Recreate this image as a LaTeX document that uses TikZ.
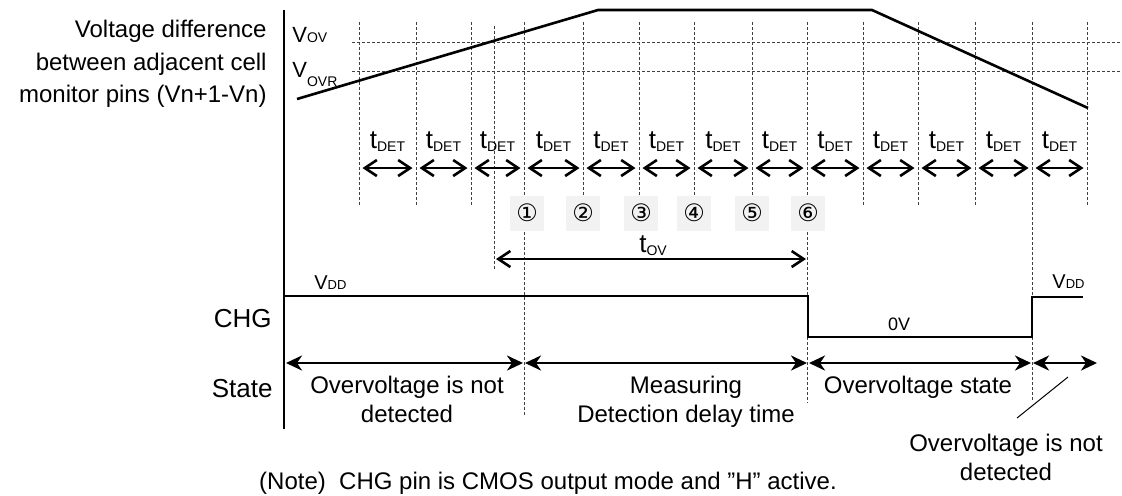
\documentclass[tikz,border=0pt]{standalone}
\usepackage{fontspec}
\setmainfont{Liberation Sans}
\newfontfamily\circfont{DejaVu Sans}
\usetikzlibrary{arrows.meta}

% small helpers for the labels
\newcommand{\tsub}[1]{{\fontsize{13}{13}\selectfont t}\raisebox{-1.5pt}{\fontsize{7}{7}\selectfont #1}}
\newcommand{\vdd}{{\fontsize{10}{10}\selectfont V}{\fontsize{6.5}{6.5}\selectfont DD}}

\tikzset{
  guide/.style={black!75, line width=0.5pt, dash pattern=on 1.5pt off 1pt},
  wave/.style={line width=1.3pt},
  sig/.style={line width=0.9pt},
  tarrow/.style={line width=1.3pt, {Straight Barb[length=6pt,width=8pt]}-{Straight Barb[length=6pt,width=8pt]}},
  starrow/.style={line width=1.4pt, {Stealth[length=8pt,width=7.5pt,inset=2.5pt]}-{Stealth[length=8pt,width=7.5pt,inset=2.5pt]}},
  numbox/.style={fill=black!5, minimum width=17pt, minimum height=17.5pt, inner sep=0pt, font=\circfont\fontsize{12}{12}\selectfont},
  lbl/.style={font=\fontsize{12}{14}\selectfont, inner sep=0pt},
  biglbl/.style={font=\fontsize{13}{15}\selectfont, inner sep=0pt}
}

\begin{document}
\begin{tikzpicture}[x=0.5pt,y=-0.5pt]
    \fill[white] (0,0) rectangle (1122,495);
    \useasboundingbox (0,0) rectangle (1122,495);

    % Axis and left labels
    \draw[line width=1pt] (284,10) -- (284,429);
    \node[lbl, anchor=base east] (vlab1) at (267,37) {Voltage difference};
    \node[lbl, anchor=base east] (vlab2) at (267,70) {between adjacent cell};
    \node[lbl, anchor=base east] (vlab3) at (267,102) {monitor pins (Vn+1-Vn)};
    \node[biglbl, anchor=base east] (chg) at (272,327) {CHG};
    \node[biglbl, anchor=base east] (state) at (273,397) {State};

    % Detection levels
    \draw[guide] (352,42) -- (1122,42);
    \draw[guide] (352,71) -- (1122,71);
    \node[inner sep=0pt, anchor=base west] (vov) at (292,42) {{\fontsize{11}{11}\selectfont V}{\fontsize{7}{7}\selectfont OV}};
    \node[inner sep=0pt, anchor=base west] (vovr) at (292,77) {{\fontsize{11}{11}\selectfont V}\raisebox{-4.5pt}{\fontsize{7}{7}\selectfont OVR}};

    % Sampling instants
    \foreach \gx/\gy in {359/205, 416/205, 471/205, 524/415, 583/195, 639/195, 694/195,
                         752/195, 807/403, 863/205, 918/205, 975/205, 1032/402, 1087/205}
        \draw[guide] (\gx,22) -- (\gx,\gy);
    \draw[guide] (494,26) -- (494,270);

    % Cell voltage
    \draw[wave] (297,99) -- (598,10) -- (872,10) -- (1088,108);

    % Detection intervals
    \foreach \a/\b in {359/416, 416/471, 471/524, 524/583, 583/639, 639/694, 694/752,
                       752/807, 807/863, 863/918, 918/975, 975/1032, 1032/1087} {
        \draw[tarrow] (\a+3.5,168) -- (\b-3.5,168);
        \node[inner sep=0pt, anchor=base] (tdet\a) at ({(\a+\b)/2},148) {\tsub{DET}};
    }

    % Counter
    \foreach \n/\bx/\c in {1/527/①, 2/583/②, 3/641/③, 4/694/④, 5/752/⑤, 6/808/⑥}
        \node[numbox] (box\n) at (\bx,213) {\c};

    % Overvoltage delay
    \coordinate (ovstart) at (496,259);
    \coordinate (ovend) at (806,259);
    \draw[tarrow] (ovstart) -- (ovend);
    \node[inner sep=0pt, anchor=base] (tov) at (653,252) {\tsub{OV}};

    % CHG output
    \draw[sig] (284,296) -- (808,296) -- (808,337) -- (1032,337) -- (1032,297) -- (1083,297);
    \node[inner sep=0pt, anchor=base west] (vddl) at (314,289) {\vdd};
    \node[inner sep=0pt, anchor=base west] (vddr) at (1052,288) {\vdd};
    \node[inner sep=0pt, font=\fontsize{9}{9}\selectfont] (zerov) at (899,324) {0V};

    % State
    \coordinate (s0) at (286,363);
    \coordinate (s1a) at (523,363);
    \coordinate (s1b) at (525,363);
    \coordinate (s2a) at (807,363);
    \coordinate (s2b) at (809,363);
    \coordinate (s3a) at (1031,363);
    \coordinate (s3b) at (1033,363);
    \coordinate (s4) at (1097,363);
    \draw[starrow] (s0) -- (s1a);
    \draw[starrow] (s1b) -- (s2a);
    \draw[starrow] (s2b) -- (s3a);
    \draw[starrow] (s3b) -- (s4);
    \node[lbl, anchor=base] (notdet1) at (407,393) {Overvoltage is not};
    \node[lbl, anchor=base] (notdet2) at (407,422) {detected};
    \node[lbl, anchor=base] (meas1) at (686,393) {Measuring};
    \node[lbl, anchor=base] (meas2) at (686,422) {Detection delay time};
    \node[lbl, anchor=base] (ovstate) at (918,393) {Overvoltage state};
    \node[lbl, anchor=base] (notdetr1) at (1006,451) {Overvoltage is not};
    \node[lbl, anchor=base] (notdetr2) at (1006,480) {detected};
    \coordinate (pin1) at (1068,377);
    \coordinate (pin2) at (1017,418);
    \draw[line width=0.5pt] (pin1) -- (pin2);

    % Note
    \node[lbl, anchor=base] (note) at (548,489) {(Note)~~CHG pin is CMOS output mode and ”H” active.};
\end{tikzpicture}
\end{document}
